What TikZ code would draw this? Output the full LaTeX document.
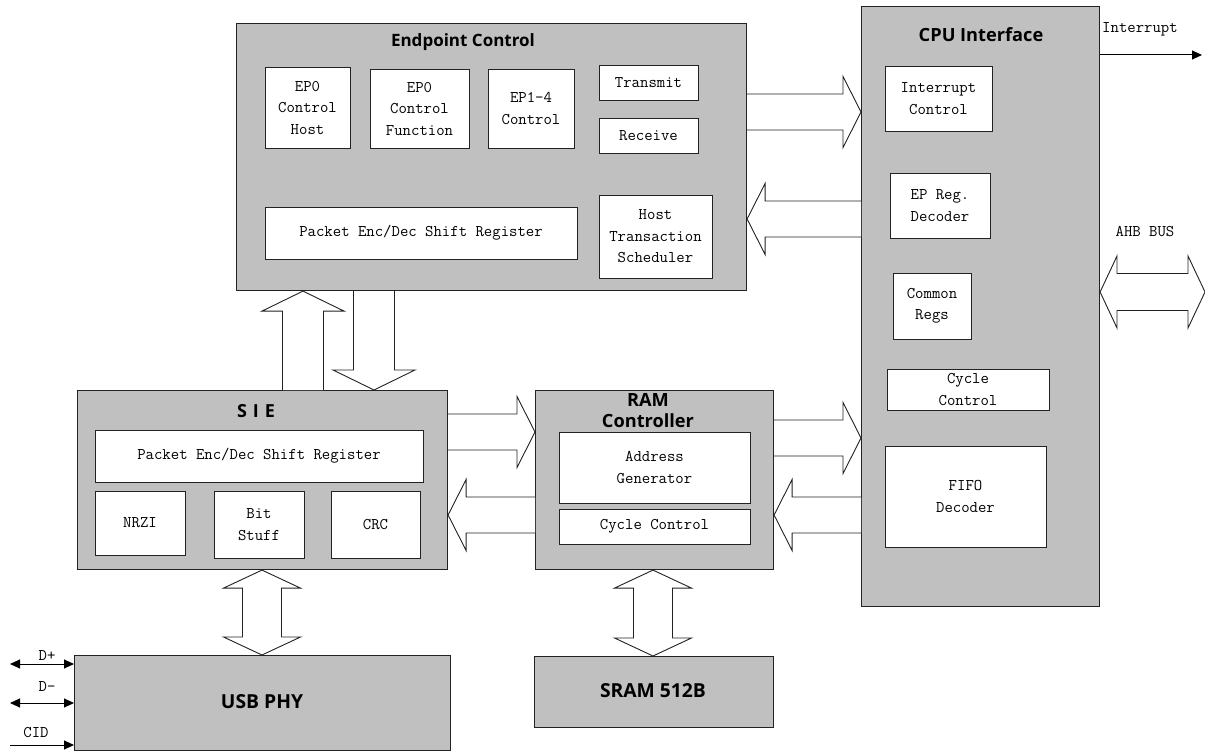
\documentclass[tikz,border=0pt]{standalone}
\usepackage{fontspec}
\newfontfamily\titlefont{Open Sans}
\usetikzlibrary{calc,arrows.meta}
\definecolor{boxgray}{HTML}{C0C0C0}
\definecolor{linecol}{HTML}{222222}
\tikzset{
  gbox/.style={draw=linecol, line width=1.1pt, fill=boxgray, inner sep=0pt, anchor=north west},
  wbox/.style={draw=linecol, line width=0.9pt, fill=white, inner sep=0pt, align=center, font=\ttfamily\fontsize{16.3}{21.5}\selectfont},
  ttl/.style={font=\titlefont\bfseries\fontsize{17}{21}\selectfont, inner sep=0pt, anchor=base, align=center},
  lbl/.style={font=\ttfamily\fontsize{16.3}{18}\selectfont, inner sep=0pt},
  blk/.style={draw=linecol, line width=0.9pt, fill=white, line join=miter},
  sig/.style={draw=black, line width=1pt},
  tip/.style={-{Triangle[length=10pt,width=9pt]}},
  dtip/.style={{Triangle[length=10pt,width=9pt]}-{Triangle[length=10pt,width=9pt]}}
}
% gray container box: name, x1, y1, x2, y2
\newcommand\gb[5]{\pgfmathsetmacro\ww{#4-#2}\pgfmathsetmacro\hh{#5-#3}%
  \node[gbox, minimum width=\ww pt, minimum height=\hh pt] (#1) at (#2,#3) {};}
% white box with text: name, x1, y1, x2, y2, text
\newcommand\wb[6]{\pgfmathsetmacro\cx{(#2+#4)/2}\pgfmathsetmacro\cy{(#3+#5)/2}%
  \pgfmathsetmacro\ww{#4-#2}\pgfmathsetmacro\hh{#5-#3}%
  \node[wbox, minimum width=\ww pt, minimum height=\hh pt] (#1) at (\cx,\cy) {#6};}
% horizontal block arrow: from anchor, tip anchor, centre y, direction (1 right, -1 left)
\newcommand\harr[4]{%
  \draw[blk] (#1|-0,#3-18) -- ($(#2|-0,#3-18)+(-18*#4,0)$) -- ($(#2|-0,#3-35.5)+(-18*#4,0)$)
    -- (#2|-0,#3) -- ($(#2|-0,#3+35.5)+(-18*#4,0)$) -- ($(#2|-0,#3+18)+(-18*#4,0)$) -- (#1|-0,#3+18);}
% vertical block arrow: from anchor, tip anchor, centre x, direction (1 down, -1 up)
\newcommand\varr[4]{%
  \draw[blk] (#3-20.5,0|-#1) -- ($(#3-20.5,0|-#2)+(0,-20*#4)$) -- ($(#3-41,0|-#2)+(0,-20*#4)$)
    -- (#3,0|-#2) -- ($(#3+41,0|-#2)+(0,-20*#4)$) -- ($(#3+20.5,0|-#2)+(0,-20*#4)$) -- (#3+20.5,0|-#1);}
% vertical double block arrow between anchors, centre x
\newcommand\dvarr[3]{%
  \draw[blk] (#3,0|-#1) -- ($(#3+38.5,0|-#1)+(0,18)$) -- ($(#3+19.5,0|-#1)+(0,18)$)
    -- ($(#3+19.5,0|-#2)+(0,-18)$) -- ($(#3+38.5,0|-#2)+(0,-18)$) -- (#3,0|-#2)
    -- ($(#3-38.5,0|-#2)+(0,-18)$) -- ($(#3-19.5,0|-#2)+(0,-18)$)
    -- ($(#3-19.5,0|-#1)+(0,18)$) -- ($(#3-38.5,0|-#1)+(0,18)$) -- cycle;}
\begin{document}
\begin{tikzpicture}[x=1pt,y=-1pt]
\useasboundingbox (0,0) rectangle (1205,751);
\fill[white] (0,0) rectangle (1205,751);

% ---------- Endpoint Control ----------
\gb{ep}{236}{23}{746}{290}
\node[ttl] (eptitle) at (463,47) {Endpoint Control};
\wb{ephost}{265}{67}{350}{148}{EP0\\Control\\Host}
\wb{epfunc}{370}{69}{469}{148}{EP0\\Control\\Function}
\wb{ep14}{488}{69}{574}{148}{EP1-4\\Control}
\wb{tx}{599}{65}{698}{100}{Transmit}
\wb{rx}{599}{118}{698}{153}{Receive}
\wb{eppkt}{265}{207}{577}{259}{Packet Enc/Dec Shift Register}
\wb{hts}{599}{195}{712}{278}{Host\\Transaction\\Scheduler}

% ---------- CPU Interface ----------
\gb{cpu}{861}{6}{1099}{606}
\node[ttl, font=\titlefont\bfseries\fontsize{18.2}{21}\selectfont] (cputitle) at (981,42) {CPU Interface};
\wb{intc}{885}{66}{992}{131}{Interrupt\\Control}
\wb{epreg}{890}{173}{990}{238}{EP Reg.\\Decoder}
\wb{common}{893}{273}{971}{339}{Common\\Regs}
\wb{cpucyc}{887}{369}{1049}{410}{Cycle\\Control}
\wb{fifo}{885}{446}{1046}{547}{FIFO\\Decoder}

% ---------- SIE ----------
\gb{sie}{77}{390}{447}{569}
\node[ttl, font=\titlefont\bfseries\fontsize{18}{21}\selectfont] (sietitle) at (256,417) {S\hspace{6pt}I\hspace{6pt}E};
\wb{siepkt}{95}{430}{423}{482}{Packet Enc/Dec Shift Register}
\wb{nrzi}{95}{491}{185}{555}{NRZI}
\wb{bitstuff}{214}{491}{304}{558}{Bit\\Stuff}
\wb{crc}{331}{491}{420}{558}{CRC}

% ---------- RAM Controller ----------
\gb{ram}{535}{390}{773}{569}
\node[ttl, font=\titlefont\bfseries\fontsize{18.2}{21}\selectfont] (ramtitle1) at (648,406) {RAM};
\node[ttl, font=\titlefont\bfseries\fontsize{18.2}{21}\selectfont] (ramtitle2) at (648,427) {Controller};
\wb{addr}{559}{432}{750}{503}{Address\\Generator}
\wb{ramcyc}{559}{509}{750}{544}{Cycle Control}

% ---------- USB PHY / SRAM ----------
\gb{phy}{74}{655}{450}{749.5}
\node[ttl, font=\titlefont\bfseries\fontsize{19.3}{21}\selectfont] (phytitle) at (262,708) {USB PHY};
\gb{sram}{534}{656}{773}{727}
\node[ttl, font=\titlefont\bfseries\fontsize{19.3}{21}\selectfont] (sramtitle) at (653,697) {SRAM 512B};

% ---------- block arrows ----------
\harr{ep.east}{cpu.west}{112}{1}
\harr{cpu.west}{ep.east}{219}{-1}
\harr{sie.east}{ram.west}{432}{1}
\harr{ram.west}{sie.east}{515}{-1}
\harr{ram.east}{cpu.west}{438}{1}
\harr{cpu.west}{ram.east}{515}{-1}
\varr{sie.north}{ep.south}{303}{-1}
\varr{ep.south}{sie.north}{374}{1}
\dvarr{sie.south}{phy.north}{262}
\dvarr{ram.south}{sram.north}{653}

% AHB bus double arrow
\coordinate (ahbend) at (1205,292);
\draw[blk] (cpu.east|-0,292) -- (1117,256) -- (1117,273.5) -- (1188,273.5) -- (1188,256) -- (ahbend)
  -- (1188,328) -- (1188,310.5) -- (1117,310.5) -- (1117,328) -- cycle;
\node[lbl] (ahblbl) at (1145,232) {AHB BUS};

% Interrupt output
\coordinate (intend) at (1202,55);
\draw[sig,tip] (cpu.east|-0,55) -- (intend);
\node[lbl, anchor=west] (intlbl) at (1102,29) {Interrupt};

% USB signals
\coordinate (dp) at (10,664);
\coordinate (dm) at (10,703);
\coordinate (cid) at (10,745);
\draw[sig,dtip] (dp) -- (phy.west|-dp);
\draw[sig,dtip] (dm) -- (phy.west|-dm);
\draw[sig,tip] (cid) -- (phy.west|-cid);
\node[lbl] (dplbl) at (47,656) {D+};
\node[lbl] (dmlbl) at (47,687) {D-};
\node[lbl] (cidlbl) at (36,733) {CID};
\end{tikzpicture}
\end{document}
